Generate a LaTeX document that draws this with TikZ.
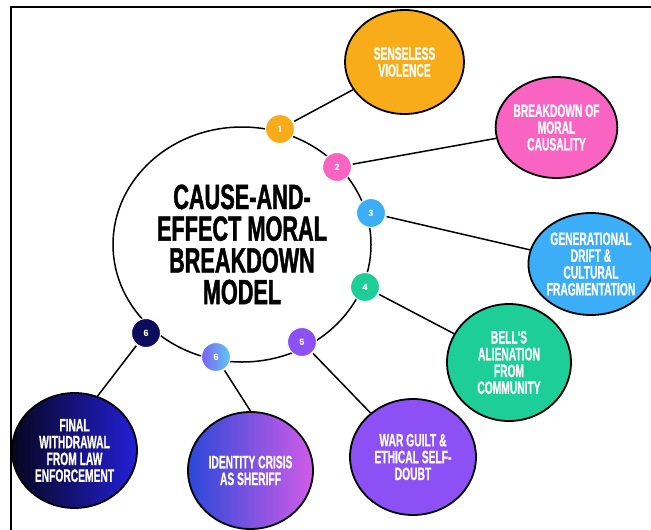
\documentclass[tikz,border=0pt]{standalone}
\usepackage{fontspec}
\usetikzlibrary{shapes.geometric}
\newfontfamily\satfont[FakeStretch=0.57,FakeBold=0.6]{Liberation Sans}
\newfontfamily\ttlfont[FakeStretch=0.62,FakeBold=1.2]{Liberation Sans}
\newfontfamily\numfont{Poppins}
\definecolor{cOrange}{HTML}{F9AC19}
\definecolor{cPink}{HTML}{F963C2}
\definecolor{cBlue}{HTML}{3BAEF7}
\definecolor{cGreen}{HTML}{1DCE98}
\definecolor{cPurple}{HTML}{8C50F5}
\definecolor{cIdL}{HTML}{2A48D8}
\definecolor{cIdR}{HTML}{D05CE8}
\definecolor{cFwL}{HTML}{06061E}
\definecolor{cFwR}{HTML}{2420D8}
\definecolor{cBadgeL}{HTML}{7C62F2}
\definecolor{cBadgeR}{HTML}{5CCBF2}
\definecolor{cNavy}{HTML}{0C0C5C}
\tikzset{
  sat/.style={ellipse, draw=black, line width=1.8pt, inner sep=0pt, align=center,
    text=white, font=\satfont\bfseries\fontsize{18}{16.8}\selectfont},
  badge/.style={circle, minimum size=29pt, inner sep=0pt, draw=white, line width=1pt,
    text=white, font=\numfont\bfseries\fontsize{8.5}{8.5}\selectfont},
  conn/.style={line width=1.5pt, black},
}
\begin{document}
\begin{tikzpicture}[x=1pt, y=-1pt]
\useasboundingbox (0,0) rectangle (651,530);
\fill[white] (0,0) rectangle (651,530);
% frame
\draw[line width=2pt] (11,530) -- (11,7) -- (651,7);
% main circle
\node[ellipse, draw=black, line width=1.5pt, minimum width=258pt, minimum height=235pt,
  inner sep=0pt, align=center, font=\ttlfont\bfseries\fontsize{35}{31.7}\selectfont]
  (main) at (242,244.5) {CAUSE-AND-\\EFFECT MORAL\\BREAKDOWN\\MODEL};
% satellites
\node[sat, fill=cOrange, minimum width=119pt, minimum height=104pt] (sv) at (404.5,62) {SENSELESS\\VIOLENCE};
\node[sat, fill=cPink, minimum width=113pt, minimum height=101pt] (bd) at (556.5,127.5) {BREAKDOWN OF\\MORAL\\CAUSALITY};
\node[sat, fill=cBlue, minimum width=116pt, minimum height=102pt] (gd) at (591,264) {GENERATIONAL\\DRIFT \&\\CULTURAL\\FRAGMENTATION};
\node[sat, fill=cGreen, minimum width=124pt, minimum height=117pt] (ba) at (509,362.5) {BELL'S\\ALIENATION\\FROM\\COMMUNITY};
\node[sat, fill=cPurple, minimum width=126pt, minimum height=116pt] (wg) at (413,457) {WAR GUILT \&\\ETHICAL SELF-\\DOUBT};
\node[sat, left color=cIdL, right color=cIdR, minimum width=125pt, minimum height=117pt] (idc) at (250.5,470.5) {IDENTITY CRISIS\\AS SHERIFF};
\node[sat, left color=cFwL, right color=cFwR, minimum width=125pt, minimum height=115pt] (fw) at (74.5,450.5) {FINAL\\WITHDRAWAL\\FROM LAW\\ENFORCEMENT};
% badges
\node[badge, fill=cOrange] (b1) at (280,129) {1};
\node[badge, fill=cPink] (b2) at (337,167) {2};
\node[badge, fill=cBlue] (b3) at (371,213) {3};
\node[badge, fill=cGreen] (b4) at (365,287) {4};
\node[badge, fill=cPurple] (b5) at (302,342) {5};
\node[badge, left color=cBadgeL, right color=cBadgeR] (b6l) at (216,357) {6};
\node[badge, fill=cNavy] (b6d) at (146,333) {6};
% connectors
\draw[conn, shorten <=1pt] (b1) -- (sv);
\draw[conn, shorten <=1pt] (b2) -- (bd);
\draw[conn, shorten <=1pt] (b3) -- (gd);
\draw[conn, shorten <=1pt] (b4) -- (ba);
\draw[conn, shorten <=1pt] (b5) -- (wg);
\draw[conn, shorten <=1pt] (b6l) -- (idc.north);
\draw[conn, shorten <=1pt] (b6d) -- (fw.67);
\end{tikzpicture}
\end{document}
